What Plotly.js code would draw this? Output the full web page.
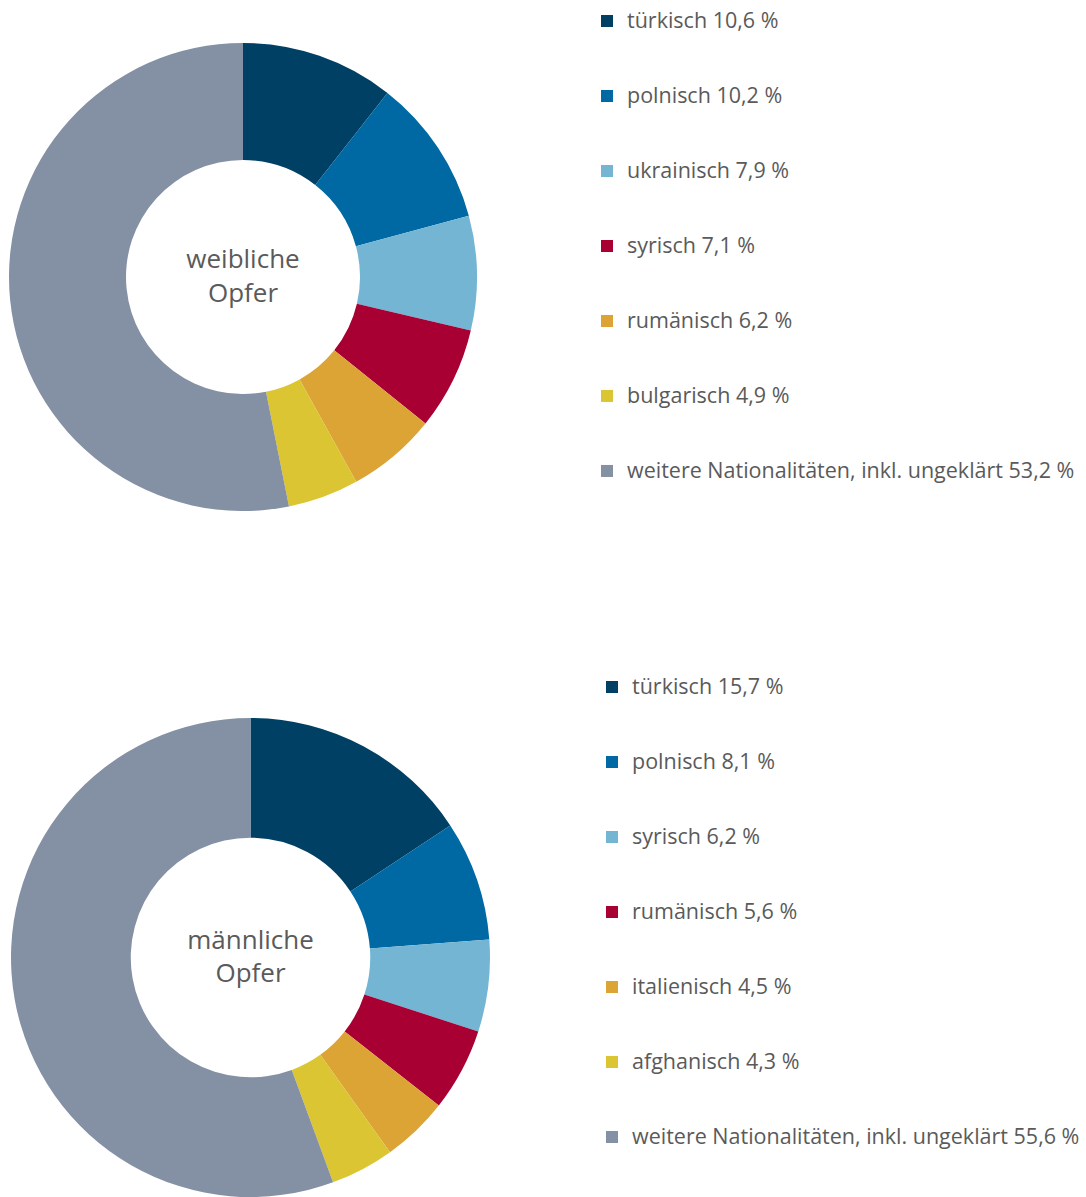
<!DOCTYPE html>
<html>
<head>
<meta charset="utf-8">
<script src="https://cdn.plot.ly/plotly-3.0.1.min.js"></script>
<style>
  html, body { margin: 0; padding: 0; background: #fff; }
  #plot { width: 1086px; height: 1197px; }
</style>
</head>
<body>
<div id="plot"></div>
<script>
// weibliche Opfer
let femaleNames = ['türkisch', 'polnisch', 'ukrainisch', 'syrisch', 'rumänisch', 'bulgarisch', 'weitere Nationalitäten, inkl. ungeklärt'];
let femaleValues = [10.6, 10.2, 7.9, 7.1, 6.2, 4.9, 53.2];

// männliche Opfer
let maleNames = ['türkisch', 'polnisch', 'syrisch', 'rumänisch', 'italienisch', 'afghanisch', 'weitere Nationalitäten, inkl. ungeklärt'];
let maleValues = [15.7, 8.1, 6.2, 5.6, 4.5, 4.3, 55.6];

let colors = ['#004065', '#0069a3', '#73b5d3', '#a90034', '#dca335', '#dcc533', '#8490a3'];

let fontFamily = '"Open Sans", Lato, sans-serif';
let textColor = '#5a5a5a';

// legend label: padded with blank lines so each entry is 75px tall
function makeLabels(names, values) {
    return names.map((n, i) =>
        ' <br><span style="font-size:21.5px">' + n + ' ' + values[i].toFixed(1).replace('.', ',') + ' %</span><br> ');
}

let trace1 = {
    type: 'pie',
    labels: makeLabels(femaleNames, femaleValues),
    values: femaleValues,
    hole: 0.5,
    sort: false,
    direction: 'clockwise',
    rotation: 0,
    textinfo: 'none',
    hoverinfo: 'skip',
    marker: {colors: colors, line: {width: 0}},
    domain: {x: [9 / 1086, 477 / 1086], y: [686 / 1197, 1154 / 1197]},
    title: {text: 'weibliche<br>Opfer', position: 'middle center', font: {size: 26, color: textColor, family: fontFamily}},
    legend: 'legend',
};

let trace2 = {
    type: 'pie',
    labels: makeLabels(maleNames, maleValues),
    values: maleValues,
    hole: 0.5,
    sort: false,
    direction: 'clockwise',
    rotation: 0,
    textinfo: 'none',
    hoverinfo: 'skip',
    marker: {colors: colors, line: {width: 0}},
    domain: {x: [10 / 1086, 491 / 1086], y: [0, 479 / 1197]},
    title: {text: 'männliche<br>Opfer', position: 'middle center', font: {size: 26, color: textColor, family: fontFamily}},
    legend: 'legend2',
};

let data = [trace1, trace2];

let legendBase = {
    xanchor: 'left',
    yanchor: 'top',
    bgcolor: 'rgba(0,0,0,0)',
    borderwidth: 0,
    font: {size: 18.46, color: textColor, family: fontFamily},
    traceorder: 'normal',
};

let layout = {
    width: 1086,
    height: 1197,
    margin: {l: 0, r: 0, t: 0, b: 0, autoexpand: false},
    paper_bgcolor: '#fff',
    showlegend: true,
    legend: Object.assign({}, legendBase, {x: 587 / 1086, y: (1197 + 21.5) / 1197}),
    legend2: Object.assign({}, legendBase, {x: 592 / 1086, y: (1197 - 644.5) / 1197}),
};

Plotly.newPlot('plot', data, layout, {displayModeBar: false, staticPlot: true});
</script>
</body>
</html>
